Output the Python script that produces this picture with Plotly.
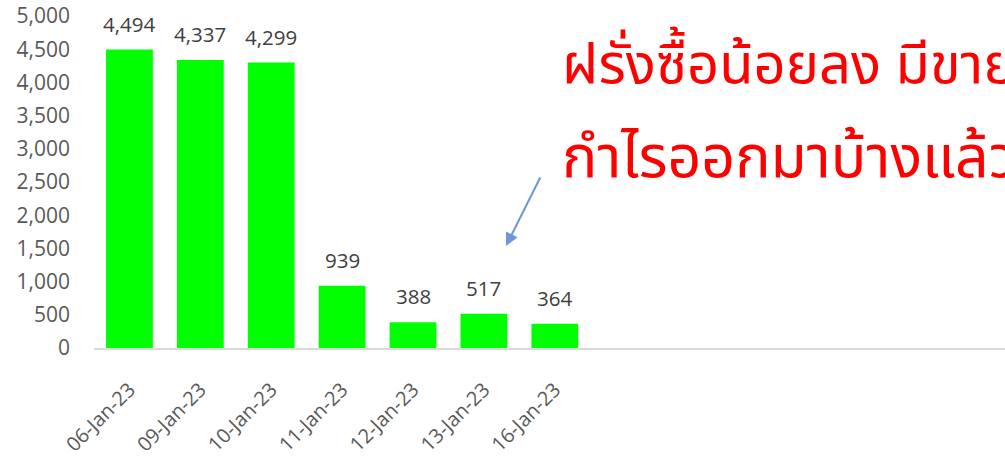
import plotly.graph_objects as go

dates = ["06-Jan-23", "09-Jan-23", "10-Jan-23", "11-Jan-23", "12-Jan-23", "13-Jan-23", "16-Jan-23"]
values = [4494, 4337, 4299, 939, 388, 517, 364]
y_ticks = [0, 500, 1000, 1500, 2000, 2500, 3000, 3500, 4000, 4500, 5000]
y_tick_text = [f"{v:,}" for v in y_ticks]
headline = ["ฝรั่งซื้อน้อยลง มีขายทำ", "กำไรออกมาบ้างแล้ว"]

font_family = "Open Sans, Noto Sans, DejaVu Sans, sans-serif"

L, T, B = 94, 16, 108
PW, PH = 1005 - L, 456 - T - B

fig = go.Figure()
fig.add_trace(go.Bar(
    x=dates, y=values,
    marker=dict(color="#00FF00", line=dict(width=0)),
    width=0.66,
    hoverinfo="x+y",
))

for d, v in zip(dates, values):
    fig.add_annotation(
        x=d, y=v, xref="x", yref="y",
        text=f"{v:,}", showarrow=False,
        yanchor="bottom", yshift=10,
        font=dict(size=20.5, color="#404040", family=font_family),
    )

fig.update_layout(
    width=1005, height=456,
    margin=dict(l=L, r=0, t=T, b=B, autoexpand=False),
    paper_bgcolor="white", plot_bgcolor="white",
    showlegend=False,
    xaxis=dict(
        type="category",
        range=[-0.5, 12.35],
        tickangle=-45,
        tickfont=dict(size=20, color="#595959", family=font_family),
        showline=True, linecolor="#D9D9D9", linewidth=2,
        showgrid=False, ticks="", ticklen=0,
        ticklabelstandoff=20,
        automargin=False,
    ),
    yaxis=dict(
        range=[0, 5000],
        tickvals=y_ticks, ticktext=y_tick_text,
        tickfont=dict(size=21, color="#595959", family=font_family),
        showgrid=False, zeroline=False, showline=False,
        ticks="", ticklabelstandoff=23,
        automargin=False,
    ),
)

headline_sizes = [56, 59]
headline_y = [66, 159]
for line, size, yc in zip(headline, headline_sizes, headline_y):
    fig.add_annotation(
        xref="paper", yref="paper",
        x=(560 - L) / PW, y=1 - (yc - T) / PH,
        xanchor="left", yanchor="middle",
        text=line, showarrow=False,
        font=dict(size=size, color="#FF0000", family="Noto Sans Thai, Loma, Garuda, sans-serif"),
    )

# arrow
fig.add_annotation(
    xref="paper", yref="paper",
    x=(506 - L) / PW, y=1 - (246 - T) / PH,
    ax=35, ay=-70,
    text="", showarrow=True,
    arrowhead=2, arrowsize=1.3, arrowwidth=2, arrowcolor="#6F97D8",
)

fig.write_html(
    "out.html",
    config={"displayModeBar": False},
    post_script="document.body.style.margin='0';document.body.style.overflow='hidden';",
)
